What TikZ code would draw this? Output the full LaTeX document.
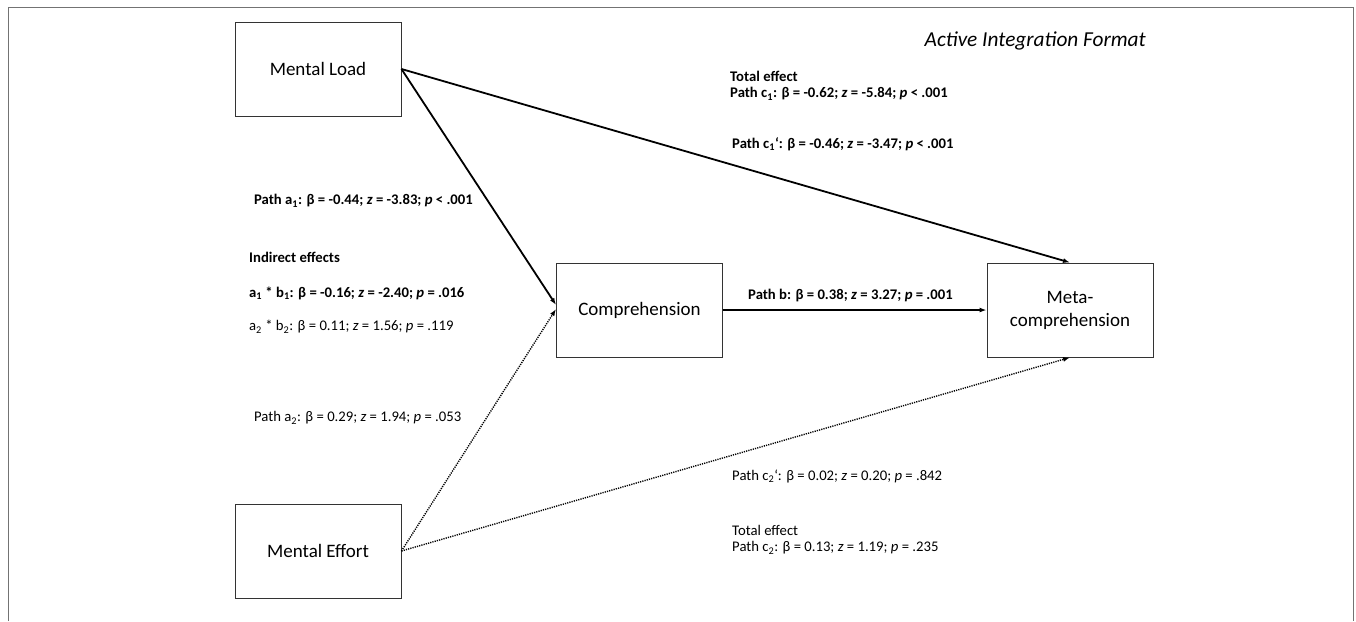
\documentclass[tikz,border=0pt]{standalone}
\usepackage{fontspec}
\setmainfont{Carlito}
\usetikzlibrary{arrows.meta}
\newcommand{\sbs}[1]{\textsubscript{#1}}
\tikzset{
  box/.style={draw=black!80, line width=0.9pt, minimum width=166pt, minimum height=94pt, inner sep=0pt, font=\fontsize{19}{23}\selectfont, align=center},
  lbl/.style={anchor=west, inner sep=0pt, font=\fontsize{14.7}{18}\selectfont, align=left},
  blbl/.style={lbl, font=\fontsize{14.7}{18}\selectfont\bfseries},
  solidarrow/.style={line width=1.8pt, -{Latex[length=7pt,width=5pt]}},
  dotarrow/.style={line width=1.4pt, dash pattern=on 1.2pt off 1.1pt, -{Latex[length=7pt,width=5pt]}},
  frame/.style={draw=black!55, line width=1pt}
}
\begin{document}
\begin{tikzpicture}[x=1pt,y=1pt]
\useasboundingbox (0,0) rectangle (1356,-621);
\draw[frame] (8,-621) -- (8,-7) -- (1353,-7) -- (1353,-621);

\node[box] (ML) at (318,-69) {Mental Load};
\node[box] (C) at (639.5,-310) {Comprehension};
\node[box] (M) at (1070,-310) {Meta-\\comprehension};
\node[box] (ME) at (318,-551) {Mental Effort};

\draw[solidarrow] (ML.east) -- (M.north);
\draw[solidarrow] (ML.east) -- ([yshift=5pt]C.west);
\draw[dotarrow] (ME.east) -- ([yshift=1pt]C.west);
\draw[solidarrow] (C.east) -- (M.west);
\draw[dotarrow] (ME.east) -- (M.south);

\node[anchor=east, inner sep=0pt, font=\fontsize{21.3}{24}\selectfont\itshape] (title) at (1146,-41) {Active Integration Format};

\node[blbl] (te1) at (730,-76) {Total effect};
\node[blbl] (pc1) at (730,-94) {Path c\sbs{1}: β = -0.62; \textit{z} = -5.84; \textit{p} < .001};
\node[blbl] (pc1p) at (732,-144) {Path c\sbs{1}‘: β = -0.46; \textit{z} = -3.47; \textit{p} < .001};
\node[blbl] (pa1) at (254,-201) {Path a\sbs{1}: β = -0.44; \textit{z} = -3.83; \textit{p} < .001};
\node[blbl] (ind) at (249,-257) {Indirect effects};
\node[blbl] (ab1) at (249,-293) {a\sbs{1} * b\sbs{1}: β = -0.16; \textit{z} = -2.40; \textit{p} = .016};
\node[lbl] (ab2) at (249,-327) {a\sbs{2} * b\sbs{2}: β = 0.11; \textit{z} = 1.56; \textit{p} = .119};
\node[blbl] (pb) at (748,-296) {Path b: β = 0.38; \textit{z} = 3.27; \textit{p} = .001};
\node[lbl] (pa2) at (254,-418) {Path a\sbs{2}: β = 0.29; \textit{z} = 1.94; \textit{p} = .053};
\node[lbl] (pc2p) at (732,-476) {Path c\sbs{2}‘: β = 0.02; \textit{z} = 0.20; \textit{p} = .842};
\node[lbl] (te2) at (732,-530) {Total effect};
\node[lbl] (pc2) at (732,-548) {Path c\sbs{2}: β = 0.13; \textit{z} = 1.19; \textit{p} = .235};
\end{tikzpicture}
\end{document}
